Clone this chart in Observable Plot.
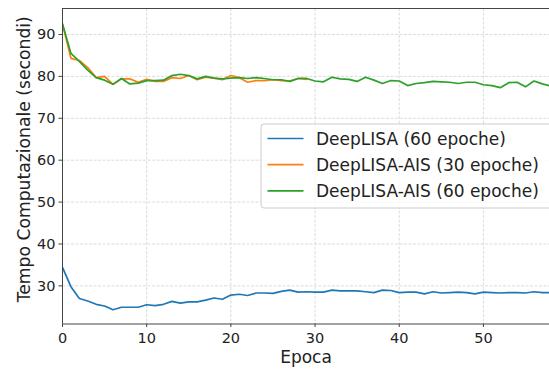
<!DOCTYPE html>
<html><head><meta charset="utf-8">
<script src="https://cdn.jsdelivr.net/npm/d3@7"></script>
<script src="https://cdn.jsdelivr.net/npm/@observablehq/plot@0.6"></script>
<style>body{margin:0;background:#fff} svg{display:block}</style>
</head><body><div id="chart"></div>
<script>
const seriesNames = ["DeepLISA (60 epoche)", "DeepLISA-AIS (30 epoche)", "DeepLISA-AIS (60 epoche)"];
const seriesColors = ["#1f77b4", "#ff7f0e", "#2ca02c"];
const deepLisa60 = [34.4, 29.8, 27.0, 26.4, 25.6, 25.2, 24.3, 24.9, 24.9, 24.9,
  25.5, 25.3, 25.6, 26.3, 25.9, 26.2, 26.2, 26.6, 27.1, 26.8,
  27.8, 28.0, 27.7, 28.3, 28.3, 28.2, 28.7, 29.0, 28.5, 28.6,
  28.5, 28.5, 29.0, 28.8, 28.8, 28.8, 28.6, 28.4, 29.0, 28.9,
  28.4, 28.5, 28.5, 28.1, 28.6, 28.3, 28.4, 28.5, 28.4, 28.1,
  28.5, 28.4, 28.3, 28.4, 28.4, 28.3, 28.6, 28.4, 28.4, 28.4];
const deepLisaAis30 = [92.5, 84.3, 83.8, 82.1, 79.7, 80.0, 78.1, 79.4, 79.4, 78.6,
  79.3, 78.8, 78.8, 79.7, 79.5, 80.2, 79.2, 79.8, 79.6, 79.2,
  80.2, 79.7, 78.6, 79.0, 79.0, 79.2, 79.0, 78.9, 79.5, 79.3];
const deepLisaAis60 = [92.5, 85.5, 83.6, 81.5, 79.7, 79.1, 78.1, 79.5, 78.2, 78.4,
  79.0, 79.0, 79.1, 80.2, 80.5, 80.2, 79.4, 80.0, 79.6, 79.4,
  79.6, 79.7, 79.5, 79.7, 79.5, 79.2, 79.2, 78.8, 79.5, 79.5,
  78.9, 78.7, 79.8, 79.4, 79.3, 78.8, 79.8, 79.1, 78.3, 79.0,
  78.9, 77.8, 78.3, 78.5, 78.8, 78.7, 78.6, 78.3, 78.6, 78.6,
  78.0, 77.8, 77.3, 78.5, 78.6, 77.5, 78.9, 78.2, 77.7, 77.9];
const xTicks = [0, 10, 20, 30, 40, 50];
const yTicks = [30, 40, 50, 60, 70, 80, 90];
const xDomain = [0, 57.85];
const yDomain = [20.9, 96.2];

const allSeries = [deepLisa60, deepLisaAis30, deepLisaAis60];
const rows = allSeries.flatMap((vals, i) => vals.map((v, e) => ({epoch: e, value: v, series: seriesNames[i]})));

const font = "DejaVu Sans, sans-serif";
const plot = Plot.plot({
  width: 549, height: 370,
  marginLeft: 62, marginRight: 0, marginTop: 8, marginBottom: 46.5,
  style: {fontFamily: font, fontSize: "14.5px", color: "#222", background: "#fff"},
  x: {domain: xDomain},
  y: {domain: yDomain},
  color: {domain: seriesNames, range: seriesColors},
  marks: [
    Plot.gridX(xTicks, {stroke: "#dcdcdc", strokeOpacity: 1, strokeDasharray: "3,1.5"}),
    Plot.gridY(yTicks, {stroke: "#dcdcdc", strokeOpacity: 1, strokeDasharray: "3,1.5"}),
    Plot.lineY(rows, {x: "epoch", y: "value", z: "series", stroke: "series", strokeWidth: 1.7, clip: true}),
    Plot.ruleX([xDomain[0]], {stroke: "#444"}),
    Plot.ruleY([yDomain[0]], {stroke: "#444"}),
    Plot.ruleY([yDomain[1]], {stroke: "#444"}),
    Plot.axisX(xTicks, {tickSize: 3.5, tickPadding: 5, stroke: "#444", tickFormat: d => String(d), label: null, fontSize: 14.5}),
    Plot.axisY(yTicks, {tickSize: 3.5, tickPadding: 3.5, stroke: "#444", tickFormat: d => String(d), label: null, fontSize: 14.5}),
    Plot.text(["Epoca"], {frameAnchor: "bottom", lineAnchor: "bottom", dy: 38.5, fontSize: 17, fill: "#222"}),
    Plot.text(["Tempo Computazionale (secondi)"], {frameAnchor: "left", textAnchor: "middle", lineAnchor: "bottom", rotate: -90, dx: -32.5, dy: -7, fontSize: 17.2, fill: "#222"})
  ]
});

// legend inside the plot area
const svg = d3.select(plot);
const lg = svg.append("g").attr("font-family", font).attr("font-size", 17).attr("text-anchor", "start");
lg.append("rect").attr("x", 261).attr("y", 124).attr("width", 300).attr("height", 84)
  .attr("rx", 3).attr("fill", "#fff").attr("fill-opacity", 0.8).attr("stroke", "#ccc");
seriesNames.forEach((name, i) => {
  const y = 138.5 + i * 26.2;
  lg.append("line").attr("x1", 267.5).attr("x2", 303.5).attr("y1", y).attr("y2", y)
    .attr("stroke", seriesColors[i]).attr("stroke-width", 1.7);
  lg.append("text").attr("x", 316).attr("y", y).attr("dy", "0.36em").attr("fill", "#222").text(name);
});
document.getElementById("chart").appendChild(plot);
</script></body></html>
